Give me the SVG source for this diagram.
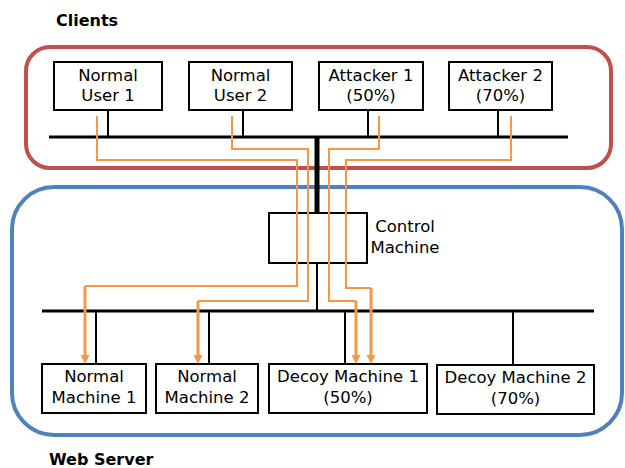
<svg xmlns="http://www.w3.org/2000/svg" width="625" height="468" viewBox="0 0 625 468">
<style>
.box{fill:#fff;stroke:#000;stroke-width:2}
.t{font-family:"DejaVu Sans",Verdana,sans-serif;font-size:16.5px;fill:#000;text-anchor:middle}
.h{font-family:"DejaVu Sans",Verdana,sans-serif;font-size:16px;font-weight:bold;fill:#000}
.w{stroke:#000;stroke-width:2;fill:none}
.bus{stroke:#000;stroke-width:3;fill:none}
.o{stroke:#F79646;stroke-width:2;fill:none}
.oa{stroke:#F79646;stroke-width:3;fill:none}
.ah{fill:#F79646}
</style>
<rect x="26" y="47" width="585" height="121" rx="24" ry="24" fill="none" stroke="#C0504D" stroke-width="4"/>
<rect x="12" y="187" width="610" height="248" rx="42" ry="42" fill="none" stroke="#4F81BD" stroke-width="4"/>
<text class="h" x="56" y="26">Clients</text>
<text class="h" x="49" y="465">Web Server</text>
<g id="wires">
<line class="w" x1="108" y1="110" x2="108" y2="137"/>
<line class="w" x1="243" y1="110" x2="243" y2="137"/>
<line class="w" x1="368" y1="110" x2="368" y2="137"/>
<line class="w" x1="498" y1="110" x2="498" y2="137"/>
<line class="bus" x1="49" y1="137" x2="568" y2="137"/>
<line x1="317" y1="136" x2="317" y2="213" stroke="#000" stroke-width="5"/>
<line class="w" x1="317" y1="263" x2="317" y2="311"/>
<line class="bus" x1="42" y1="311" x2="594" y2="311"/>
<line class="w" x1="96" y1="311" x2="96" y2="364"/>
<line class="w" x1="209" y1="311" x2="209" y2="364"/>
<line class="w" x1="345" y1="311" x2="345" y2="364"/>
<line class="w" x1="513" y1="311" x2="513" y2="365"/>
</g>
<g id="normal-user-1">
<rect class="box" x="54" y="62" width="108" height="48"/>
<text class="t" x="108" y="81">Normal</text>
<text class="t" x="108" y="101">User 1</text>
</g>
<g id="normal-user-2">
<rect class="box" x="189" y="62" width="103" height="48"/>
<text class="t" x="240.5" y="81">Normal</text>
<text class="t" x="240.5" y="101">User 2</text>
</g>
<g id="attacker-1">
<rect class="box" x="319" y="62" width="104" height="48"/>
<text class="t" x="371" y="81">Attacker 1</text>
<text class="t" x="371" y="101">(50%)</text>
</g>
<g id="attacker-2">
<rect class="box" x="449" y="62" width="103" height="48"/>
<text class="t" x="500.5" y="81">Attacker 2</text>
<text class="t" x="500.5" y="101">(70%)</text>
</g>
<g id="control-machine">
<rect class="box" x="269" y="213" width="98" height="50"/>
<text class="t" x="405" y="232">Control</text>
<text class="t" x="405" y="253">Machine</text>
</g>
<g id="normal-machine-1">
<rect class="box" x="42" y="364" width="104" height="49"/>
<text class="t" x="94" y="382">Normal</text>
<text class="t" x="94" y="403">Machine 1</text>
</g>
<g id="normal-machine-2">
<rect class="box" x="156" y="364" width="102" height="49"/>
<text class="t" x="207" y="382">Normal</text>
<text class="t" x="207" y="403">Machine 2</text>
</g>
<g id="decoy-machine-1">
<rect class="box" x="269" y="364" width="158" height="49"/>
<text class="t" x="348" y="382">Decoy Machine 1</text>
<text class="t" x="348" y="403">(50%)</text>
</g>
<g id="decoy-machine-2">
<rect class="box" x="437" y="365" width="157" height="49"/>
<text class="t" x="515.5" y="383">Decoy Machine 2</text>
<text class="t" x="515.5" y="404">(70%)</text>
</g>
<g id="connectors">
<polyline class="o" points="97,116 97,160 297,160 297,286 85,286"/>
<line class="oa" x1="85" y1="286" x2="85" y2="356"/>
<polyline class="o" points="232,116 232,149 308,149 308,301 198,301"/>
<line class="oa" x1="198" y1="301" x2="198" y2="356"/>
<polyline class="o" points="379,116 379,149 329,149 329,301 356,301"/>
<line class="oa" x1="356" y1="301" x2="356" y2="356"/>
<polyline class="o" points="511,116 511,160 346,160 346,288 371,288"/>
<line class="oa" x1="371" y1="288" x2="371" y2="356"/>
<path class="ah" d="M80.5,355 L89.5,355 L85,364 Z"/>
<path class="ah" d="M193.5,355 L202.5,355 L198,364 Z"/>
<path class="ah" d="M351.5,355 L360.5,355 L356,364 Z"/>
<path class="ah" d="M366.5,355 L375.5,355 L371,364 Z"/>
</g>
</svg>
